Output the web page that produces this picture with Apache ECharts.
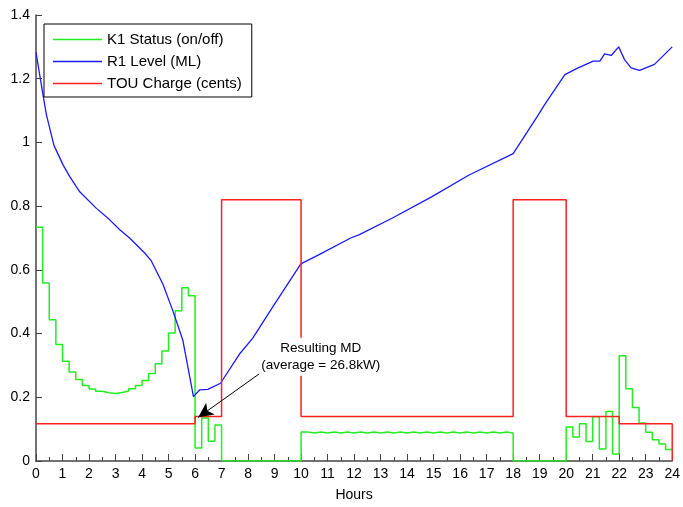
<!DOCTYPE html>
<html>
<head>
<meta charset="utf-8">
<script src="https://cdn.jsdelivr.net/npm/echarts@6/dist/echarts.min.js"></script>
<style>
  html, body { margin: 0; padding: 0; background: #fff; }
  #chart { width: 683px; height: 507px; }
</style>
</head>
<body>
<div id="chart"></div>
<script>
// Pump K1 on/off duty, sampled every quarter hour from 0 h to 24 h
const statusStep = 0.25;
const statusValues = [
  0.734, 0.559, 0.443, 0.366, 0.313, 0.279, 0.256, 0.237,
  0.226, 0.219, 0.214, 0.212, 0.215, 0.220, 0.227, 0.237,
  0.253, 0.275, 0.305, 0.345, 0.402, 0.472, 0.544, 0.519,
  0.041, 0.135, 0.062, 0.113,
  0, 0, 0, 0, 0, 0, 0, 0, 0, 0, 0, 0,
  0.091, 0.088, 0.091, 0.088, 0.091, 0.088, 0.091, 0.088,
  0.091, 0.088, 0.091, 0.088, 0.091, 0.088, 0.091, 0.088,
  0.091, 0.088, 0.091, 0.088, 0.091, 0.088, 0.091, 0.088,
  0.091, 0.088, 0.091, 0.088, 0.091, 0.088, 0.091, 0.088,
  0, 0, 0, 0, 0, 0, 0, 0,
  0.107, 0.075, 0.117, 0.061, 0.139, 0.038, 0.155, 0.022,
  0.330, 0.227, 0.168, 0.119, 0.090, 0.067, 0.053, 0.036
];

// Reservoir R1 level (ML)
const levelHours = [
  0, 0.27, 0.4, 0.68, 1.03, 1.28, 1.65, 2.28, 2.78, 3.16, 3.53, 4.1, 4.35,
  4.79, 5.16, 5.54, 5.94, 6.17, 6.48, 6.96, 7.67, 8.17, 8.92, 9.99, 10.68,
  11.87, 12.18, 13.43, 14.94, 16.32, 18.0, 18.9, 19.2, 19.95, 20.45, 21.02,
  21.27, 21.45, 21.7, 21.98, 22.2, 22.45, 22.77, 23.33, 24.0
];
const levelValues = [
  1.283, 1.146, 1.084, 0.990, 0.928, 0.892, 0.845, 0.793, 0.757, 0.726, 0.700, 0.653, 0.628,
  0.555, 0.472, 0.379, 0.202, 0.223, 0.225, 0.244, 0.335, 0.385, 0.482, 0.619, 0.648,
  0.700, 0.710, 0.762, 0.830, 0.897, 0.965, 1.080, 1.120, 1.213, 1.234, 1.255,
  1.255, 1.278, 1.273, 1.300, 1.260, 1.234, 1.226, 1.245, 1.300
];

// Time-of-use tariff breakpoints (cents)
const touHours  = [0, 6, 7, 10, 18, 20, 22, 24, 24];
const touValues = [0.117, 0.14, 0.82, 0.14, 0.82, 0.14, 0.117, 0.117, 0];

// Axis ticks
const xMin = 0, xMax = 24, xStep = 1;
const yMin = 0, yMax = 1.4, yStep = 0.2;

const statusData = statusValues.map((v, i) => [i * statusStep, v]);
statusData.push([xMax, statusValues[statusValues.length - 1]]);
const levelData = levelHours.map((h, i) => [h, levelValues[i]]);
const touData = touHours.map((h, i) => [h, touValues[i]]);

const FONT = "'Liberation Sans', Arial, sans-serif";
const AXIS_COLOR = '#444';
const GREEN = '#22ee22', BLUE = '#1a1aff', RED = '#ff2020';

const chart = echarts.init(document.getElementById('chart'), null, { renderer: 'canvas' });

chart.setOption({
  animation: false,
  backgroundColor: '#fff',
  grid: { left: 36, right: 8, top: 15, bottom: 42, containLabel: false },
  legend: {
    data: [
      { name: 'K1 Status (on/off)', icon: 'rect', itemStyle: { color: GREEN } },
      { name: 'R1 Level (ML)', icon: 'rect', itemStyle: { color: BLUE } },
      { name: 'TOU Charge (cents)', icon: 'rect', itemStyle: { color: RED } }
    ],
    orient: 'vertical',
    left: 44,
    top: 24,
    padding: [7, 10, 5, 9],
    itemGap: 5,
    itemWidth: 49,
    itemHeight: 1.5,
    backgroundColor: '#fff',
    borderColor: '#000',
    borderWidth: 1,
    borderRadius: 0,
    textStyle: { fontFamily: FONT, fontSize: 15, lineHeight: 17, color: '#000' },
    selectedMode: false
  },
  xAxis: {
    type: 'value',
    min: xMin,
    max: xMax,
    interval: xStep,
    name: 'Hours',
    nameLocation: 'middle',
    nameGap: 27,
    nameTextStyle: { fontFamily: FONT, fontSize: 14, color: '#000' },
    axisLine: { show: true, onZero: false, lineStyle: { color: AXIS_COLOR, width: 1.5 } },
    axisTick: { show: true, inside: true, length: 7, lineStyle: { color: AXIS_COLOR } },
    minorTick: { show: true, splitNumber: 2, length: 4, lineStyle: { color: AXIS_COLOR } },
    axisLabel: { fontFamily: FONT, fontSize: 14, color: '#000', margin: 6 },
    splitLine: { show: false }
  },
  yAxis: {
    type: 'value',
    min: yMin,
    max: yMax,
    interval: yStep,
    axisLine: { show: true, onZero: false, lineStyle: { color: AXIS_COLOR, width: 1.5 } },
    axisTick: { show: true, inside: true, length: 6, lineStyle: { color: AXIS_COLOR } },
    axisLabel: { fontFamily: FONT, fontSize: 14, color: '#000', margin: 6 },
    splitLine: { show: false }
  },
  series: [
    {
      name: 'K1 Status (on/off)',
      type: 'line',
      step: 'end',
      data: statusData,
      showSymbol: false,
      symbol: 'none',
      lineStyle: { color: GREEN, width: 1.5 },
      itemStyle: { color: GREEN },
      z: 2
    },
    {
      name: 'R1 Level (ML)',
      type: 'line',
      data: levelData,
      showSymbol: false,
      symbol: 'none',
      lineStyle: { color: BLUE, width: 1.3 },
      itemStyle: { color: BLUE },
      z: 3
    },
    {
      name: 'TOU Charge (cents)',
      type: 'line',
      step: 'end',
      data: touData,
      showSymbol: false,
      symbol: 'none',
      lineStyle: { color: RED, width: 1.5 },
      itemStyle: { color: RED },
      z: 4,
      markLine: {
        silent: true,
        animation: false,
        symbol: ['none', 'arrow'],
        symbolSize: [11, 15],
        lineStyle: { color: '#000', width: 1, type: 'solid' },
        label: { show: false },
        data: [[{ coord: [8.53, 0.28] }, { coord: [6.12, 0.137] }]]
      },
      markPoint: {
        silent: true,
        animation: false,
        symbol: 'rect',
        symbolSize: 0,
        label: {
          show: true,
          position: 'inside',
          formatter: 'Resulting MD\n(average = 26.8kW)',
          fontFamily: FONT,
          fontSize: 13.5,
          lineHeight: 17,
          color: '#000',
          align: 'center',
          backgroundColor: '#fff',
          padding: [2, 2]
        },
        data: [{ coord: [10.74, 0.327] }]
      }
    }
  ]
});
</script>
</body>
</html>
